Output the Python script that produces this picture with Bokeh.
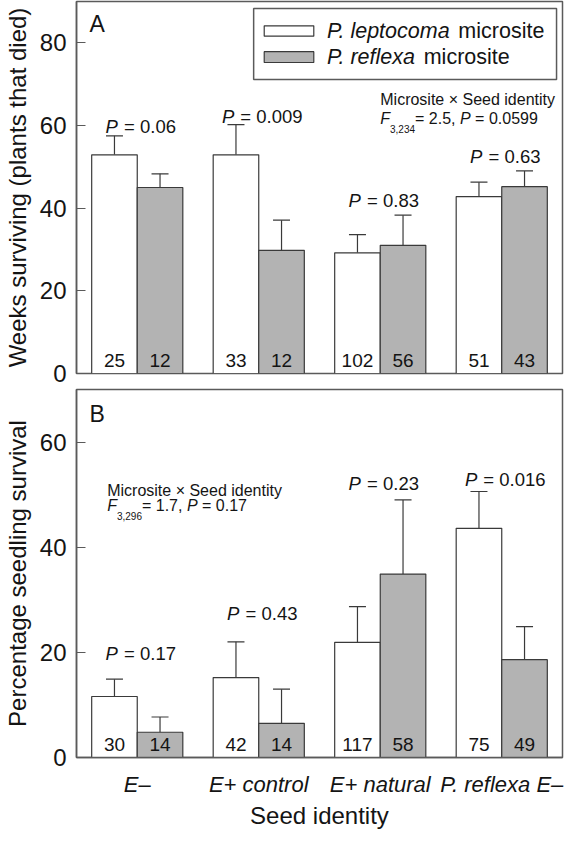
from bokeh.plotting import figure
from bokeh.models import (ColumnDataSource, Whisker, TeeHead, Label, BoxAnnotation,
                          FixedTicker, FactorRange, Range1d)
from bokeh.transform import dodge
from bokeh.core.properties import value
from bokeh.layouts import column
from bokeh.embed import file_html
from bokeh.resources import INLINE

# ---------------- data ----------------
categories = ["E\u2013", "E+ control", "E+ natural", "P. reflexa E\u2013"]

# Panel A: weeks surviving
weeks_lep = [52.9, 52.9, 29.2, 42.8]
weeks_lep_se = [4.6, 7.3, 4.4, 3.5]
weeks_ref = [45.0, 29.8, 31.0, 45.2]
weeks_ref_se = [3.3, 7.3, 7.3, 3.8]
weeks_n_lep = [25, 33, 102, 51]
weeks_n_ref = [12, 12, 56, 43]
weeks_p = ["0.06", "0.009", "0.83", "0.63"]
weeks_p_y = [59.8, 62.1, 41.9, 52.6]

# Panel B: percentage seedling survival
surv_lep = [11.6, 15.2, 21.9, 43.6]
surv_lep_se = [3.3, 6.8, 6.8, 7.0]
surv_ref = [4.8, 6.5, 34.9, 18.6]
surv_ref_se = [2.9, 6.5, 14.1, 6.3]
surv_n_lep = [30, 42, 117, 75]
surv_n_ref = [14, 14, 58, 49]
surv_p = ["0.17", "0.43", "0.23", "0.016"]
surv_p_y = [19.7, 27.3, 52.1, 52.8]

weeks_ticks = [0, 20, 40, 60, 80]
surv_ticks = [0, 20, 40, 60]

# ---------------- style ----------------
FONT = "Liberation Sans"
TXT = "#141414"
FRAME = "#5a5a5a"
BAR_LINE = "#3a3a3a"
GREY = "#b3b3b3"
HALF = 0.1875
BAR_W = 0.375

W = {' ': 278, '.': 278, ',': 278, '=': 584, '+': 584, '\u2013': 556, '\u00d7': 584,
     'P': 667, 'F': 611, 'E': 667, 'M': 833, 'S': 667,
     'a': 556, 'c': 500, 'd': 556, 'e': 556, 'f': 278, 'g': 556, 'i': 222, 'l': 222,
     'm': 833, 'n': 556, 'o': 556, 'p': 556, 'r': 333, 's': 500, 't': 278, 'x': 500,
     'y': 500}


def tw(s, size):
    return sum(W.get(c, 556) for c in s) * size / 1000.0


def rich_label(p, x, y, runs):
    off = 0.0
    for text, size, style, dy in runs:
        core = text.strip(' ')
        lead = len(text) - len(text.lstrip(' '))
        trail = len(text) - len(text.rstrip(' '))
        off += tw(' ' * lead, size)
        p.add_layout(Label(x=x, y=y, x_offset=off, y_offset=dy, text=core,
                           text_font=FONT, text_font_size=f"{size}px",
                           text_font_style=style, text_baseline="middle",
                           text_align="left", text_color=TXT))
        off += tw(core, size) + tw(' ' * trail, size)


def make_fig(height, ymax, ticks, ylabel, top_border, bottom_border):
    p = figure(x_range=FactorRange(factors=categories, range_padding=0),
               y_range=Range1d(0, ymax), width=566, height=height,
               output_backend="svg", toolbar_location=None,
               min_border_left=68, min_border_right=4,
               min_border_top=top_border, min_border_bottom=bottom_border)
    p.background_fill_color = "white"
    p.border_fill_color = "white"
    p.grid.grid_line_color = None
    p.outline_line_color = FRAME
    p.outline_line_width = 1.5
    p.outline_line_alpha = 1.0
    ya = p.yaxis[0]
    ya.ticker = FixedTicker(ticks=ticks)
    ya.axis_label = ylabel
    ya.axis_label_text_font = FONT
    ya.axis_label_text_font_size = "24px"
    ya.axis_label_text_font_style = "normal"
    ya.axis_label_text_color = TXT
    ya.axis_label_standoff = 6
    ya.major_label_text_font = FONT
    ya.major_label_text_font_size = "24px"
    ya.major_label_text_color = TXT
    ya.major_label_standoff = 10
    ya.major_tick_in = 9
    ya.major_tick_out = 0
    ya.minor_tick_line_color = None
    ya.major_tick_line_color = FRAME
    ya.major_tick_line_width = 1.2
    ya.axis_line_color = FRAME
    ya.axis_line_width = 1.5
    return p


def add_panel(p, lep, lep_se, ref, ref_se, n_lep, n_ref, pvals, p_y):
    src = ColumnDataSource(dict(
        cat=categories, lep=lep, ref=ref,
        lep_up=[m + e for m, e in zip(lep, lep_se)],
        ref_up=[m + e for m, e in zip(ref, ref_se)],
        n_lep=[str(v) for v in n_lep], n_ref=[str(v) for v in n_ref]))
    for field, up, shift, fill, nfield in (("lep", "lep_up", -HALF, "white", "n_lep"),
                                           ("ref", "ref_up", HALF, GREY, "n_ref")):
        xs = dodge("cat", shift, range=p.x_range)
        w = Whisker(source=src, base=xs, lower=field, upper=up, dimension="height",
                    line_color=BAR_LINE, line_width=1.2, lower_head=None,
                    upper_head=TeeHead(size=17, line_color=BAR_LINE, line_width=1.2))
        p.add_layout(w)
        p.vbar(x=xs, top=field, width=BAR_W, source=src, fill_color=fill,
               line_color=BAR_LINE, line_width=1.2)
        p.text(x=xs, y=0, text=nfield, source=src, text_font=value(FONT),
               text_font_size="19px", text_align="center", text_baseline="middle",
               y_offset=-13, text_color=TXT)
    # P-value labels: italic "P" + regular "= value", centred over the group
    size = 18.5
    offP, offR, rest = [], [], []
    for v in pvals:
        total = tw("P = " + v, size)
        o = -total / 2 + 3
        offP.append(o)
        offR.append(o + tw("P ", size) + 1)
        rest.append("= " + v)
    psrc = ColumnDataSource(dict(cat=categories, py=p_y, offP=offP, offR=offR, rest=rest))
    p.text(x="cat", y="py", text=value("P"), x_offset="offP", source=psrc,
           text_font=value(FONT), text_font_style="italic", text_font_size=f"{size}px",
           text_align="left", text_baseline="middle", text_color=TXT)
    p.text(x="cat", y="py", text="rest", x_offset="offR", source=psrc,
           text_font=value(FONT), text_font_size=f"{size}px",
           text_align="left", text_baseline="middle", text_color=TXT)


# ---------------- panel A ----------------
p1 = make_fig(388, 90, weeks_ticks, "Weeks surviving (plants that died)", 1, 15)
p1.xaxis.visible = False
add_panel(p1, weeks_lep, weeks_lep_se, weeks_ref, weeks_ref_se,
          weeks_n_lep, weeks_n_ref, weeks_p, weeks_p_y)

# legend (manual, to allow mixed italic/regular text)
p1.add_layout(BoxAnnotation(left=1.458, right=3.951, top=88.33, bottom=71.12,
                            fill_color="white", fill_alpha=1.0, line_color=FRAME,
                            line_alpha=1.0, line_width=1.5))
p1.add_layout(BoxAnnotation(left=1.545, right=1.953, top=84.12, bottom=81.6,
                            fill_color="white", fill_alpha=1.0, line_color=BAR_LINE,
                            line_alpha=1.0, line_width=1.2))
p1.add_layout(BoxAnnotation(left=1.545, right=1.953, top=77.86, bottom=75.24,
                            fill_color=GREY, fill_alpha=1.0, line_color=BAR_LINE,
                            line_alpha=1.0, line_width=1.2))
rich_label(p1, 2.061, 82.79, [("P. leptocoma", 21.5, "italic", 0),
                             (" microsite", 21.5, "normal", 0)])
rich_label(p1, 2.061, 76.67, [("P. reflexa", 21.5, "italic", 0),
                             (" microsite", 21.5, "normal", 0)])

# panel letter and interaction statistics
p1.add_layout(Label(x=0.106, y=84.6, text="A", text_font=FONT, text_font_size="23px",
                    text_baseline="middle", text_color=TXT))
rich_label(p1, 2.50, 66.31, [("Microsite \u00d7 Seed identity", 16, "normal", 0)])
rich_label(p1, 2.50, 61.67, [("F", 16, "italic", 0), ("3,234", 10, "normal", -10),
                            ("= 2.5, ", 16, "normal", 0), ("P", 16, "italic", 0),
                            (" = 0.0599", 16, "normal", 0)])

# ---------------- panel B ----------------
p2 = make_fig(443, 70, surv_ticks, "Percentage seedling survival", 1, 0)
xa = p2.xaxis[0]
xa.axis_label = "Seed identity"
xa.axis_label_text_font = FONT
xa.axis_label_text_font_size = "24px"
xa.axis_label_text_font_style = "normal"
xa.axis_label_text_color = TXT
xa.axis_label_standoff = 2
xa.major_label_text_font = FONT
xa.major_label_text_font_size = "22px"
xa.major_label_text_font_style = "italic"
xa.major_label_text_color = TXT
xa.major_label_standoff = 8
xa.major_tick_line_color = None
xa.minor_tick_line_color = None
xa.axis_line_color = FRAME
xa.axis_line_width = 1.5
add_panel(p2, surv_lep, surv_lep_se, surv_ref, surv_ref_se,
          surv_n_lep, surv_n_ref, surv_p, surv_p_y)
p2.add_layout(Label(x=0.106, y=65.3, text="B", text_font=FONT, text_font_size="23px",
                    text_baseline="middle", text_color=TXT))
rich_label(p2, 0.2525, 50.8, [("Microsite \u00d7 Seed identity", 16, "normal", 0)])
rich_label(p2, 0.2525, 47.9, [("F", 16, "italic", 0), ("3,296", 10, "normal", -10),
                             ("= 1.7, ", 16, "normal", 0), ("P", 16, "italic", 0),
                             (" = 0.17", 16, "normal", 0)])

layout = column(p1, p2, spacing=0)
open("out.html", "w").write(file_html(layout, INLINE))
